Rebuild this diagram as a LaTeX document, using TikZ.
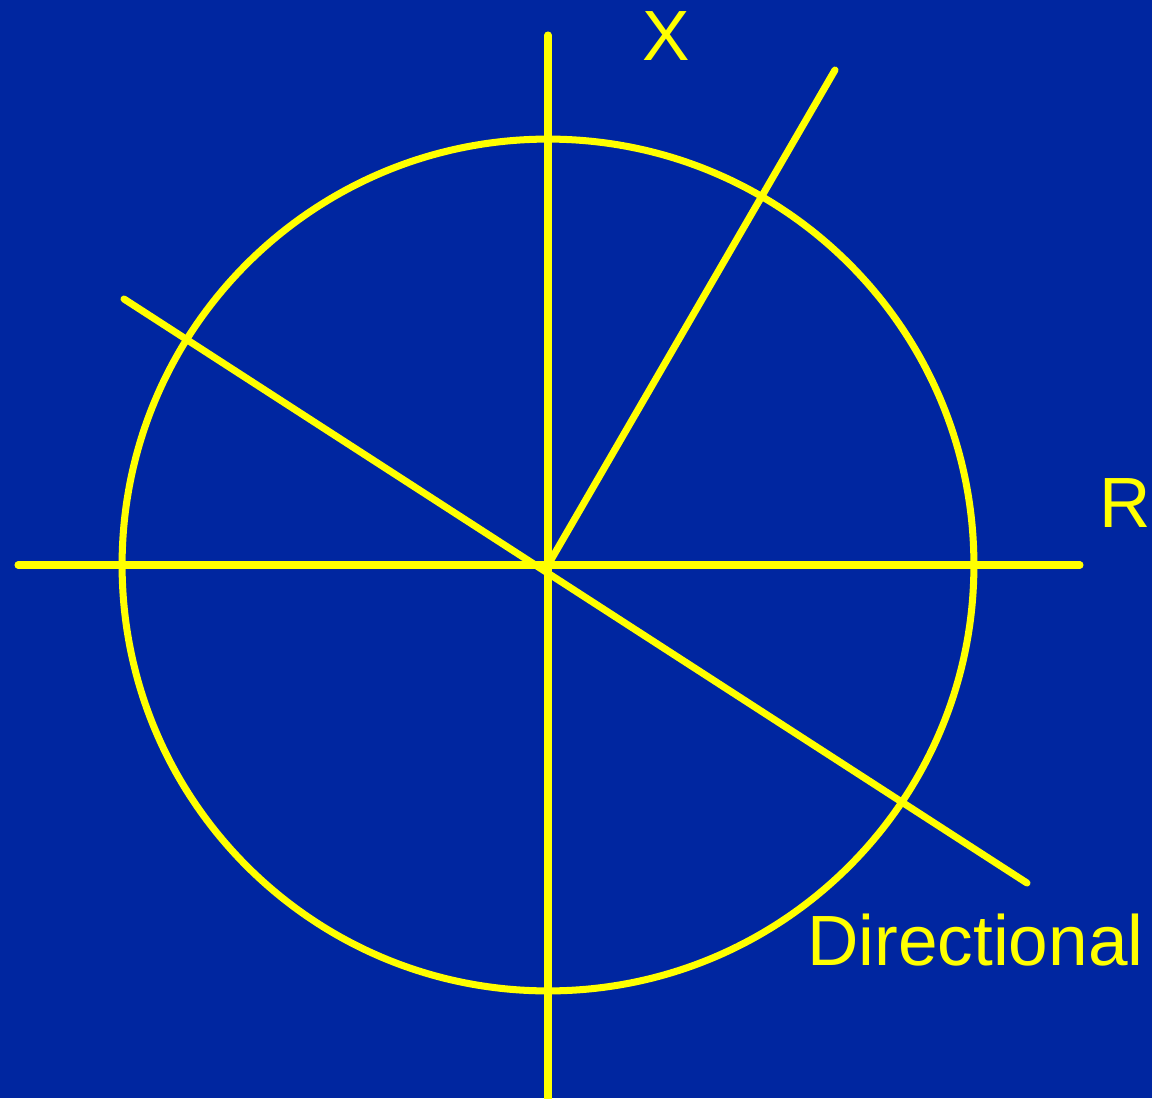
\documentclass[tikz,border=0pt]{standalone}
\usepackage{fontspec}
\setmainfont{Liberation Sans}
\usepackage{xcolor}
\usepackage{tikz}
\usetikzlibrary{positioning,calc}

\definecolor{bgblue}{RGB}{0,38,160}
\definecolor{axisyellow}{RGB}{255,255,0}

\begin{document}
\begin{tikzpicture}[
    x=0.02cm, y=-0.02cm,
    axisline/.style={draw=axisyellow, line width=4pt, line cap=round},
    axislabel/.style={text=axisyellow, inner sep=0pt, font=\fontsize{40.5}{48}\selectfont}
]
    \fill [bgblue] (0,0) rectangle (1152,1098);
    \useasboundingbox (0,0) rectangle (1152,1098);

    \coordinate (centre) at (548,565);
    \coordinate (xtop) at (548,35);
    \coordinate (xbottom) at (548,1110);
    \coordinate (rleft) at (18,565);
    \coordinate (rright) at (1080,565);
    \coordinate (dstart) at (124,299);
    \coordinate (dend) at (1027,883);
    \coordinate (raytip) at (835,70);

    \draw [axisline] (centre) circle [radius=8.52cm];
    \draw [axisline] (xtop) -- (xbottom);
    \draw [axisline] (rleft) -- (rright);
    \draw [axisline] (dstart) -- (dend);
    \draw [axisline] (centre) -- (raytip);

    \node [axislabel, anchor=base] (xlabel) at (666,61) {X};
    \node [axislabel, anchor=base] (rlabel) at (1125,527) {R};
    \node [axislabel, anchor=base west] (dlabel) at (807,965) {Directional};
\end{tikzpicture}
\end{document}
